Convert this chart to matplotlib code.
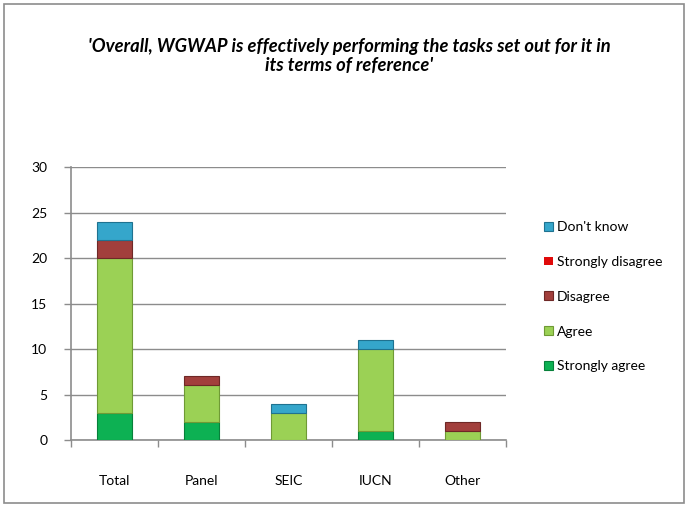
import numpy as np
import matplotlib.pyplot as plt
from matplotlib.patches import Rectangle

categories = ["Total", "Panel", "SEIC", "IUCN", "Other"]
strongly_agree = [3, 2, 0, 1, 0]
agree = [17, 4, 3, 9, 1]
disagree = [2, 1, 0, 0, 1]
strongly_disagree = [0, 0, 0, 0, 0]
dont_know = [2, 0, 1, 1, 0]

series = [
    ("Strongly agree", strongly_agree, "#0DB153", "#07803a"),
    ("Agree", agree, "#9BD155", "#6f9a35"),
    ("Disagree", disagree, "#A23F3C", "#6e2826"),
    ("Strongly disagree", strongly_disagree, "#E00A0A", "#9a0505"),
    ("Don't know", dont_know, "#35A6CB", "#1f7290"),
]

plt.rcParams["font.family"] = ["Lato", "DejaVu Sans"]
GRID = "#8c8c8c"

fig = plt.figure(figsize=(6.88, 5.05), dpi=100)
fig.patches.append(Rectangle((0.006, 0.004), 0.988, 0.988, transform=fig.transFigure,
                             fill=False, edgecolor="#8c8c8c", linewidth=1.2))
ax = fig.add_axes([0.1032, 0.1287, 0.6323, 0.5406])

x = np.arange(len(categories))
bottom = np.zeros(len(categories))
handles = []
for name, vals, color, edge in series:
    vals = np.array(vals, dtype=float)
    # skip empty segments so they don't leave an edge line on top of the stack
    lw = np.where(vals > 0, 0.8, 0)
    h = ax.bar(x, vals, width=0.41, bottom=bottom, color=color, edgecolor=edge,
               linewidth=lw, label=name, zorder=3)
    handles.append(h)
    bottom += vals

ax.set_xlim(-0.5, len(categories) - 0.5)
ax.set_ylim(0, 30)
ax.set_yticks(range(0, 31, 5))
ax.set_xticks(np.arange(len(categories) + 1) - 0.5, minor=True)
ax.set_xticks(x)
ax.set_xticklabels(categories)
ax.tick_params(axis="x", which="major", length=0, pad=25, labelsize=10)
ax.tick_params(axis="x", which="minor", length=5, color=GRID, width=1)
ax.tick_params(axis="y", length=5, color=GRID, width=1, pad=12, labelsize=10)
ax.grid(axis="y", color=GRID, linewidth=1, zorder=0)
for s in ("top", "right"):
    ax.spines[s].set_visible(False)
for s in ("left", "bottom"):
    ax.spines[s].set_color(GRID)
    ax.spines[s].set_linewidth(1.2)

fig.text(0.508, 0.889, "'Overall, WGWAP is effectively performing the tasks set out for it in\nits terms of reference'",
         ha="center", va="center", fontsize=13.2, fontweight="bold", fontstyle="italic", linespacing=1.2)

fig.legend(handles=handles[::-1], loc="upper left", bbox_to_anchor=(0.783, 0.573),
           frameon=False, fontsize=10, handlelength=0.6, handleheight=0.6,
           handletextpad=0.3, labelspacing=1.64, borderaxespad=0)

fig.savefig("out.png", dpi=100)
